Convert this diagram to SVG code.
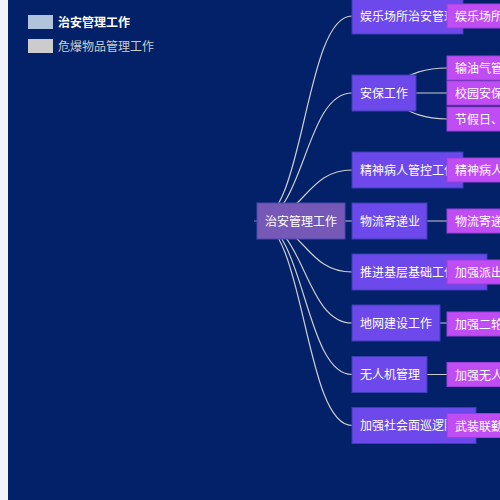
<svg xmlns="http://www.w3.org/2000/svg" width="500" height="500" viewBox="0 0 500 500">
<style>
text{font-family:"Noto Sans CJK SC","Noto Sans",sans-serif;font-size:12px;dominant-baseline:central}
.edge{fill:none;stroke:#cccccc;stroke-width:1.2}
.root rect{fill:#7659b6;stroke:#4a48b0;stroke-width:1}
.l1 rect{fill:#6d48ea;stroke:#3d3fb5;stroke-width:1}
.l2 rect{fill:#c04cf3;stroke:#9c40d8;stroke-width:1}
.lbl{fill:#ffffff}
</style>
<rect x="0" y="0" width="500" height="500" fill="#f2f3f8"/>
<rect x="8" y="0" width="492" height="500" fill="#022169"/>
<g id="legend">
<rect x="28" y="15" width="25" height="14" fill="#b0c4de"/>
<text x="58" y="21" fill="#ffffff" font-weight="bold">治安管理工作</text>
<rect x="28" y="39" width="25" height="14" fill="#cccccc"/>
<text x="58" y="45" fill="#cccccc">危爆物品管理工作</text>
</g>
<g id="connectors">
<line class="edge" x1="254" y1="221" x2="257" y2="221" stroke="#a05a8a" stroke-opacity="0.5"/>
<path class="edge" d="M257,221 C304.5,221 304.5,16 352,16"/>
<path class="edge" d="M257,221 C304.5,221 304.5,93 352,93"/>
<path class="edge" d="M257,221 C304.5,221 304.5,170 352,170"/>
<path class="edge" d="M257,221 L352,221"/>
<path class="edge" d="M257,221 C304.5,221 304.5,272 352,272"/>
<path class="edge" d="M257,221 C304.5,221 304.5,323 352,323"/>
<path class="edge" d="M257,221 C304.5,221 304.5,374.5 352,374.5"/>
<path class="edge" d="M257,221 C304.5,221 304.5,425.5 352,425.5"/>
<path class="edge" d="M352,16 L447,16"/>
<path class="edge" d="M352,93 C399.5,93 399.5,68 447,68"/>
<path class="edge" d="M352,93 L447,93"/>
<path class="edge" d="M352,93 C399.5,93 399.5,119 447,119"/>
<path class="edge" d="M352,170 L447,170"/>
<path class="edge" d="M352,221 L447,221"/>
<path class="edge" d="M352,272 L447,272"/>
<path class="edge" d="M352,323 L447,323"/>
<path class="edge" d="M352,374.5 L447,374.5"/>
<path class="edge" d="M352,425.5 L447,425.5"/>
</g>
<g id="root" class="root"><rect x="257" y="203" width="88" height="36"/><text class="lbl" x="265" y="220">治安管理工作</text></g>
<g id="n1" class="l1"><rect x="352" y="-2" width="111" height="36"/><text class="lbl" x="360" y="15">娱乐场所治安管理</text></g>
<g id="n2" class="l1"><rect x="352" y="75" width="64" height="36"/><text class="lbl" x="360" y="92">安保工作</text></g>
<g id="n3" class="l1"><rect x="352" y="152" width="111" height="36"/><text class="lbl" x="360" y="169">精神病人管控工作</text></g>
<g id="n4" class="l1"><rect x="352" y="203" width="75" height="36"/><text class="lbl" x="360" y="220">物流寄递业</text></g>
<g id="n5" class="l1"><rect x="352" y="254" width="135" height="36"/><text class="lbl" x="360" y="271">推进基层基础工作</text></g>
<g id="n6" class="l1"><rect x="352" y="305" width="88" height="36"/><text class="lbl" x="360" y="322">地网建设工作</text></g>
<g id="n7" class="l1"><rect x="352" y="356.5" width="75" height="36"/><text class="lbl" x="360" y="373.5">无人机管理</text></g>
<g id="n8" class="l1"><rect x="352" y="407.5" width="124" height="36"/><text class="lbl" x="360" y="424.5">加强社会面巡逻防控</text></g>
<g id="m1" class="l2"><rect x="447" y="4" width="60" height="24"/><text class="lbl" x="455" y="15.5">娱乐场所</text></g>
<g id="m2" class="l2"><rect x="447" y="56" width="60" height="24"/><text class="lbl" x="455" y="67.5">输油气管</text></g>
<g id="m3" class="l2"><rect x="447" y="81" width="60" height="24"/><text class="lbl" x="455" y="92.5">校园安保</text></g>
<g id="m4" class="l2"><rect x="447" y="107" width="60" height="24"/><text class="lbl" x="455" y="118.5">节假日、</text></g>
<g id="m5" class="l2"><rect x="447" y="158" width="60" height="24"/><text class="lbl" x="455" y="169.5">精神病人</text></g>
<g id="m6" class="l2"><rect x="447" y="209" width="60" height="24"/><text class="lbl" x="455" y="220.5">物流寄递</text></g>
<g id="m7" class="l2"><rect x="447" y="260" width="60" height="24"/><text class="lbl" x="455" y="271.5">加强派出</text></g>
<g id="m8" class="l2"><rect x="447" y="312" width="60" height="24"/><text class="lbl" x="455" y="323.5">加强二轮</text></g>
<g id="m9" class="l2"><rect x="447" y="362.5" width="60" height="24"/><text class="lbl" x="455" y="374">加强无人</text></g>
<g id="m10" class="l2"><rect x="447" y="413.5" width="60" height="24"/><text class="lbl" x="455" y="425">武装联勤</text></g>
</svg>
